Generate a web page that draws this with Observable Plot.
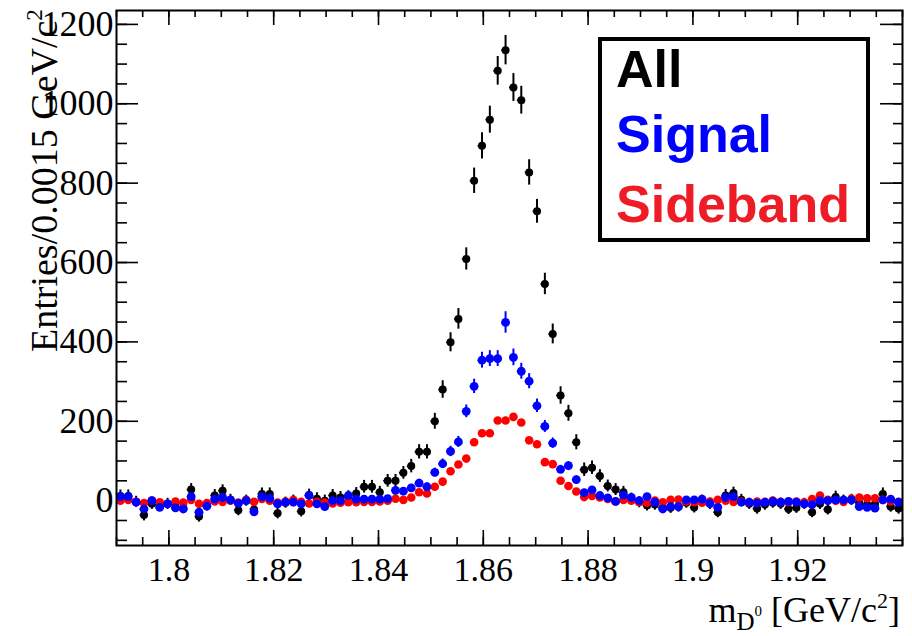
<!DOCTYPE html>
<html><head><meta charset="utf-8">
<script src="https://cdn.jsdelivr.net/npm/d3@7"></script>
<script src="https://cdn.jsdelivr.net/npm/@observablehq/plot@0.6"></script>
<style>body{margin:0;background:#fff}#chart{width:912px;height:636px}</style>
</head><body><div id="chart"></div>
<script>
// Histogram binning of m_D0 (GeV/c^2)
const binStart = 1.79;
const binWidth = 0.0015;

// Entries per bin (100 bins)
const allCounts = [
  12, 12, -3, -36, -8, -12, -8, -10, -18, 28,
  -40, -12, 13, 25, 2, -24, 0, -22, 17, 17,
  -32, -5, 0, -27, 14, 5, 0, 13, 8, 10,
  18, 35, 35, 21, 50, 50, 70, 87, 123, 123,
  200, 280, 399, 458, 609, 806, 894, 960, 1083, 1135,
  1041, 1009, 827, 729, 546, 420, 265, 220, 147, 78,
  83, 62, 37, 28, 21, 5, -4, -12, -10, -18,
  -18, -15, -5, -17, 0, -8, -29, 13, 19, 2,
  -8, -20, -10, -5, -8, -21, -18, -8, -29, -8,
  -22, 9, 0, 2, -5, -10, -8, 17, -15, -20
];
const allErr = [
  15, 15, 14, 15, 14, 14, 14, 14, 14, 15,
  14, 14, 15, 15, 14, 14, 14, 14, 15, 15,
  14, 14, 14, 14, 15, 15, 14, 15, 15, 15,
  15, 16, 16, 15, 16, 16, 16, 17, 18, 18,
  20, 22, 24, 26, 28, 32, 33, 34, 36, 37,
  35, 35, 32, 30, 27, 25, 22, 20, 19, 17,
  17, 16, 15, 15, 15, 14, 14, 14, 14, 14,
  14, 14, 14, 14, 14, 14, 14, 15, 15, 14,
  14, 14, 14, 14, 14, 14, 14, 14, 14, 14,
  14, 15, 14, 14, 14, 14, 14, 15, 14, 14
];
const signalCounts = [
  10, 10, -4, -21, 0, -17, -8, -18, -21, 10,
  -29, -14, 4, 8, 2, -7, 0, -28, 10, 6,
  -8, -4, -4, -8, 13, -8, -15, 0, 0, 13,
  4, 4, 4, 4, 5, 26, 24, 32, 44, 35,
  71, 93, 124, 148, 225, 288, 354, 358, 358, 449,
  361, 326, 301, 239, 187, 145, 79, 88, 53, 20,
  27, 13, 7, -2, 14, 8, 0, 10, -4, -21,
  -15, -15, 2, 2, 4, -7, -17, 8, 10, -4,
  -4, -6, -4, -2, -4, -2, -4, -8, -10, 0,
  0, 2, 2, 2, -15, -17, -19, 2, 4, -4
];
const signalErr = [
  8, 8, 8, 8, 8, 8, 8, 8, 8, 8,
  8, 8, 8, 8, 8, 8, 8, 8, 8, 8,
  8, 8, 8, 8, 8, 8, 8, 8, 8, 8,
  8, 8, 8, 8, 8, 9, 9, 9, 10, 9,
  11, 12, 13, 14, 16, 18, 20, 20, 20, 27,
  21, 20, 19, 17, 15, 13, 10, 10, 9, 8,
  8, 8, 8, 8, 8, 8, 8, 8, 8, 8,
  8, 8, 8, 8, 8, 8, 8, 8, 8, 8,
  8, 8, 8, 8, 8, 8, 8, 8, 8, 8,
  8, 8, 8, 8, 8, 8, 8, 8, 8, 8
];
const sidebandCounts = [
  0, 2, -3, -6, 0, -4, -8, -2, -5, 2,
  -8, -6, -2, -3, 0, -5, 2, -3, 4, 0,
  -5, -2, 2, -3, -7, -3, -5, -7, -5, -4,
  -4, -3, -3, -2, 0, 5, 2, 8, 21, 18,
  35, 48, 74, 91, 106, 147, 170, 170, 202, 202,
  211, 197, 152, 142, 97, 92, 50, 37, 23, 9,
  12, 8, 4, -2, 2, 0, -3, -5, 0, -4,
  2, 3, -2, -4, -5, -2, 2, 0, -3, -2,
  -4, -2, -3, 0, -3, -4, -2, -4, 4, 13,
  2, 0, -3, 5, 8, 6, 6, 2, -2, -3
];
const sidebandErr = [
  4, 4, 4, 4, 4, 4, 4, 4, 4, 4,
  4, 4, 4, 4, 4, 4, 4, 4, 4, 4,
  4, 4, 4, 4, 4, 4, 4, 4, 4, 4,
  4, 4, 4, 4, 4, 4, 4, 4, 5, 5,
  5, 5, 6, 6, 6, 7, 7, 7, 7, 7,
  7, 7, 7, 7, 6, 6, 5, 5, 5, 4,
  4, 4, 4, 4, 4, 4, 4, 4, 4, 4,
  4, 4, 4, 4, 4, 4, 4, 4, 4, 4,
  4, 4, 4, 4, 4, 4, 4, 4, 4, 4,
  4, 4, 4, 4, 4, 4, 4, 4, 4, 4
];

// Axis ticks
const xMajor = [1.8, 1.82, 1.84, 1.86, 1.88, 1.9, 1.92];
const yMajor = [0, 200, 400, 600, 800, 1000, 1200];
const xDomain = [1.79, 1.94];
const yDomain = [-113, 1235];

// Legend
const seriesNames = ["All", "Signal", "Sideband"];
const seriesColors = ["#000000", "#0000ff", "#ff0000"];
const legendTextColors = ["#000000", "#0000ff", "#ee1c24"];

const W = 912, H = 636, mL = 116, mR = 10, mT = 10, mB = 91;
const pw = W - mL - mR, ph = H - mT - mB;
const serif = "'Liberation Serif','Times New Roman',serif";

const rows = (vals, errs) => vals.map((v, i) => ({x: binStart + (i + 0.5) * binWidth, y: v, e: errs[i]}));
const dAll = rows(allCounts, allErr);
const dSig = rows(signalCounts, signalErr);
const dSide = rows(sidebandCounts, sidebandErr);

const xMinor = d3.range(0, 31).map(k => +(xDomain[0] + k * 0.005).toFixed(4));
const yMinor = d3.range(-100, 1201, 50);

function seriesMarks(data, color, r, ew, hbar) {
  const m = [
    Plot.ruleX(data, {x: "x", y1: d => d.y - d.e, y2: d => d.y + d.e, stroke: color, strokeWidth: ew})
  ];
  if (hbar) m.push(Plot.ruleY(data, {y: "y", x1: d => d.x - binWidth / 2, x2: d => d.x + binWidth / 2, stroke: color, strokeWidth: 1.6}));
  m.push(Plot.dot(data, {x: "x", y: "y", r, fill: color, stroke: "none"}));
  return m;
}

const tk = {stroke: "black", strokeWidth: 1.6};
const chart = Plot.plot({
  width: W, height: H,
  marginLeft: mL, marginRight: mR, marginTop: mT, marginBottom: mB,
  style: {fontFamily: serif, background: "white", color: "black"},
  x: {domain: xDomain},
  y: {domain: yDomain},
  marks: [
    // inward ticks on all four sides
    Plot.ruleY(yMinor, {y: d => d, insetRight: pw - 11, ...tk}),
    Plot.ruleY(yMajor, {y: d => d, insetRight: pw - 22, ...tk}),
    Plot.ruleY(yMinor, {y: d => d, insetLeft: pw - 9, ...tk}),
    Plot.ruleY(yMajor, {y: d => d, insetLeft: pw - 22, ...tk}),
    Plot.ruleX(xMinor, {x: d => d, insetTop: ph - 8, ...tk}),
    Plot.ruleX(xMajor, {x: d => d, insetTop: ph - 15, ...tk}),
    Plot.ruleX(xMinor, {x: d => d, insetBottom: ph - 7, ...tk}),
    Plot.ruleX(xMajor, {x: d => d, insetBottom: ph - 15, ...tk}),
    ...seriesMarks(dAll, seriesColors[0], 4, 2, true),
    ...seriesMarks(dSide, seriesColors[2], 4.3, 1.5, false),
    ...seriesMarks(dSig, seriesColors[1], 4.4, 2, true),
    Plot.frame({stroke: "black", strokeWidth: 2}),
    Plot.axisX({ticks: xMajor, tickSize: 0, tickPadding: 11, fontSize: 34, fontFamily: serif, tickFormat: d => String(d), label: null}),
    Plot.axisY({ticks: yMajor, tickSize: 0, tickPadding: 3, fontSize: 36, fontFamily: serif, tickFormat: d => String(d), label: null})
  ]
});
document.getElementById("chart").appendChild(chart);

const svg = d3.select(chart);
// y-axis title
const yt = svg.append("text")
  .attr("transform", "translate(57,352) rotate(-90)")
  .attr("text-anchor", "start")
  .attr("font-family", serif).attr("font-size", 38).attr("fill", "black");
yt.append("tspan").text("Entries/0.0015 GeV/c");
yt.append("tspan").attr("font-size", 23).attr("dy", -15).text("2");

// x-axis title
const xt = svg.append("text")
  .attr("x", 900).attr("y", 622).attr("text-anchor", "end")
  .attr("font-family", serif).attr("font-size", 36).attr("fill", "black");
xt.append("tspan").text("m");
xt.append("tspan").attr("font-size", 25).attr("dy", 8).text("D");
xt.append("tspan").attr("font-size", 15).attr("dy", -14).text("0");
xt.append("tspan").attr("font-size", 36).attr("dy", 6).text(" [GeV/c");
xt.append("tspan").attr("font-size", 22).attr("dy", -14).text("2");
xt.append("tspan").attr("font-size", 36).attr("dy", 14).text("]");

// legend box
const lg = svg.append("g").attr("text-anchor", "start");
lg.append("rect").attr("x", 600).attr("y", 39).attr("width", 268).attr("height", 201)
  .attr("fill", "white").attr("stroke", "black").attr("stroke-width", 4);
const baselines = [87, 152, 222];
seriesNames.forEach((n, i) => {
  lg.append("text").attr("x", 616).attr("y", baselines[i]).attr("text-anchor", "start")
    .attr("font-family", "'Liberation Sans',Arial,sans-serif").attr("font-weight", "bold")
    .attr("font-size", 52).attr("fill", legendTextColors[i]).text(n);
});
</script></body></html>
